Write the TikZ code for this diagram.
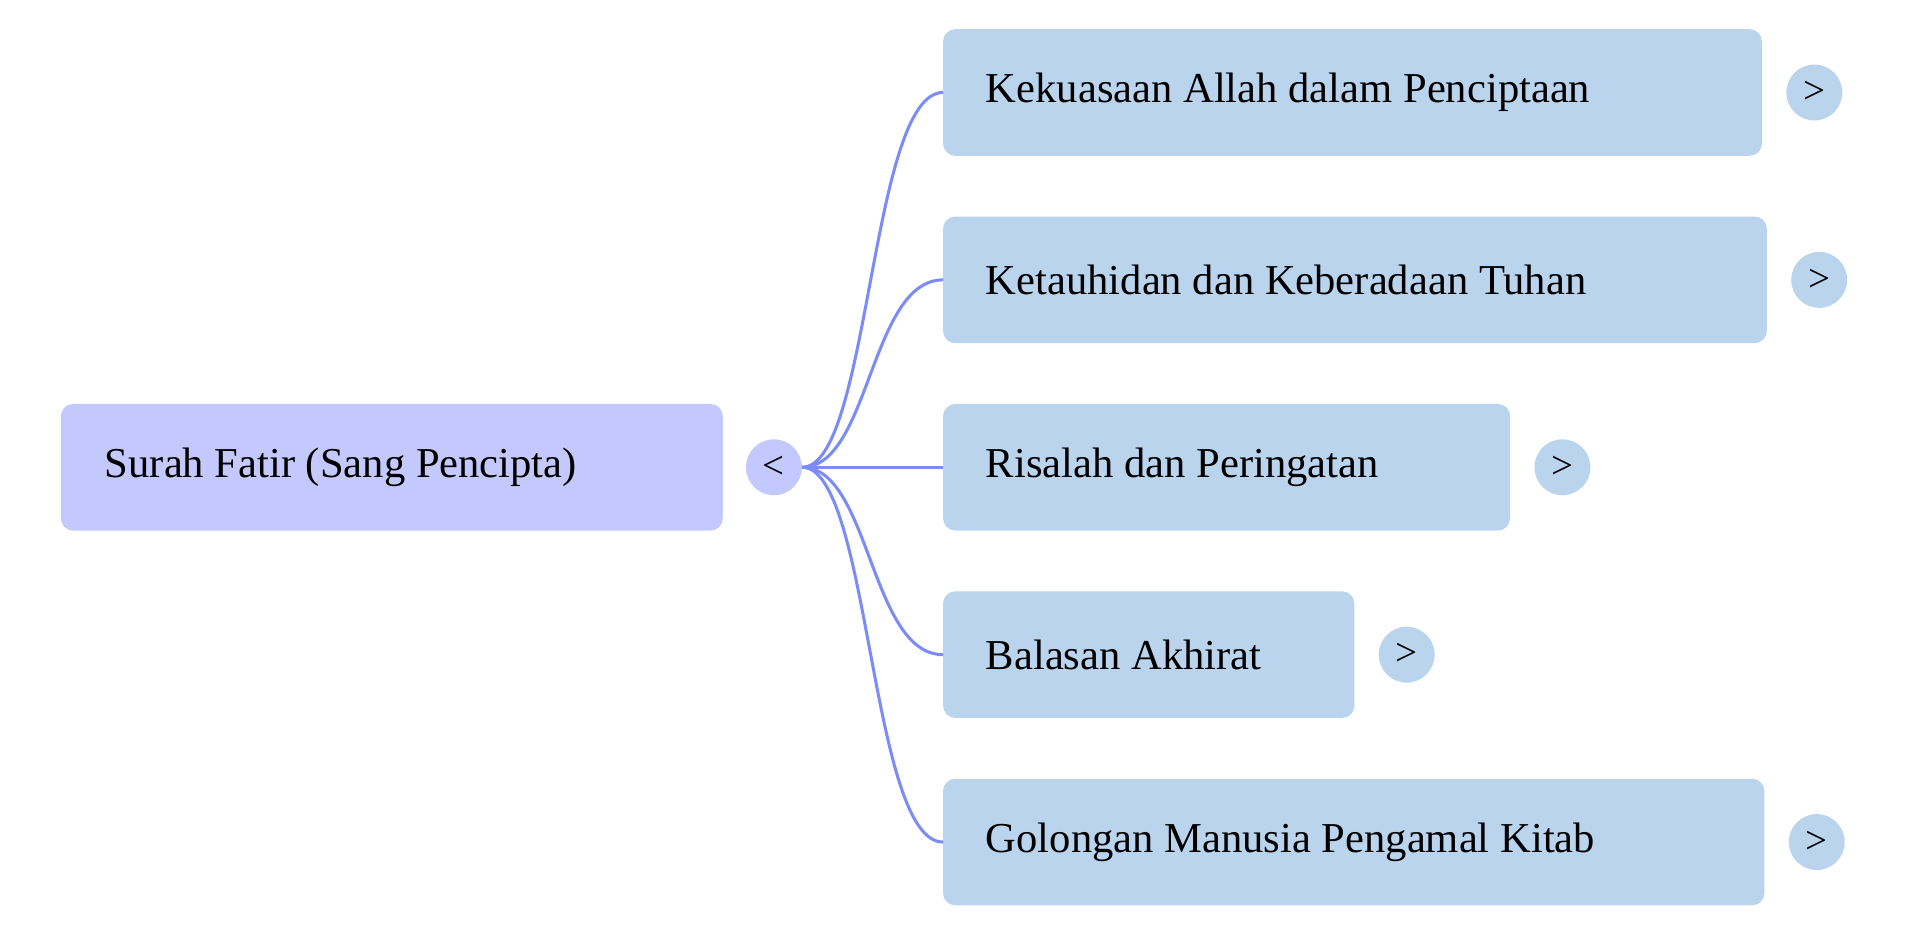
\documentclass[tikz,border=0pt]{standalone}
\usepackage{fontspec}
\setmainfont{Liberation Serif}
\begin{document}
\begin{tikzpicture}[x=1pt,y=-1pt,
 box/.style={fill=#1,rounded corners=10pt,draw=none},
 lbl/.style={anchor=west,font=\fontsize{35}{40}\selectfont,inner sep=0},
 btn/.style={circle,fill=#1,minimum size=46pt,inner sep=0,font=\fontsize{32}{36}\selectfont},
 edge/.style={draw=edgeC,line width=2.5pt}]
\definecolor{rootC}{HTML}{C3C9FD}
\definecolor{childC}{HTML}{BAD4EE}
\definecolor{edgeC}{HTML}{7B8CF7}
\useasboundingbox (0,0) rectangle (1568,769);
\fill[box=rootC] (50,332) rectangle (594,436);
\node[lbl] (root) at (86,384) {Surah Fatir (Sang Pencipta)};
\node[btn=rootC] (rc) at (636,384) {<};
\foreach \n/\y/\r/\t in {a/76/1448/Kekuasaan Allah dalam Penciptaan,
 b/230/1452/Ketauhidan dan Keberadaan Tuhan,
 c/384/1241/Risalah dan Peringatan,
 d/538/1113/Balasan Akhirat,
 e/692/1450/Golongan Manusia Pengamal Kitab}{
 \fill[box=childC] (775,\y-52) rectangle (\r,\y+52);
 \coordinate (in\n) at (775,\y);
 \node[lbl] (t\n) at (810,\y) {\t};
 \node[btn=childC] (c\n) at (\r+43,\y) {>};
 \draw[edge] (rc.east) .. controls (715,384) and (715,\y) .. (in\n);
}
\end{tikzpicture}
\end{document}
